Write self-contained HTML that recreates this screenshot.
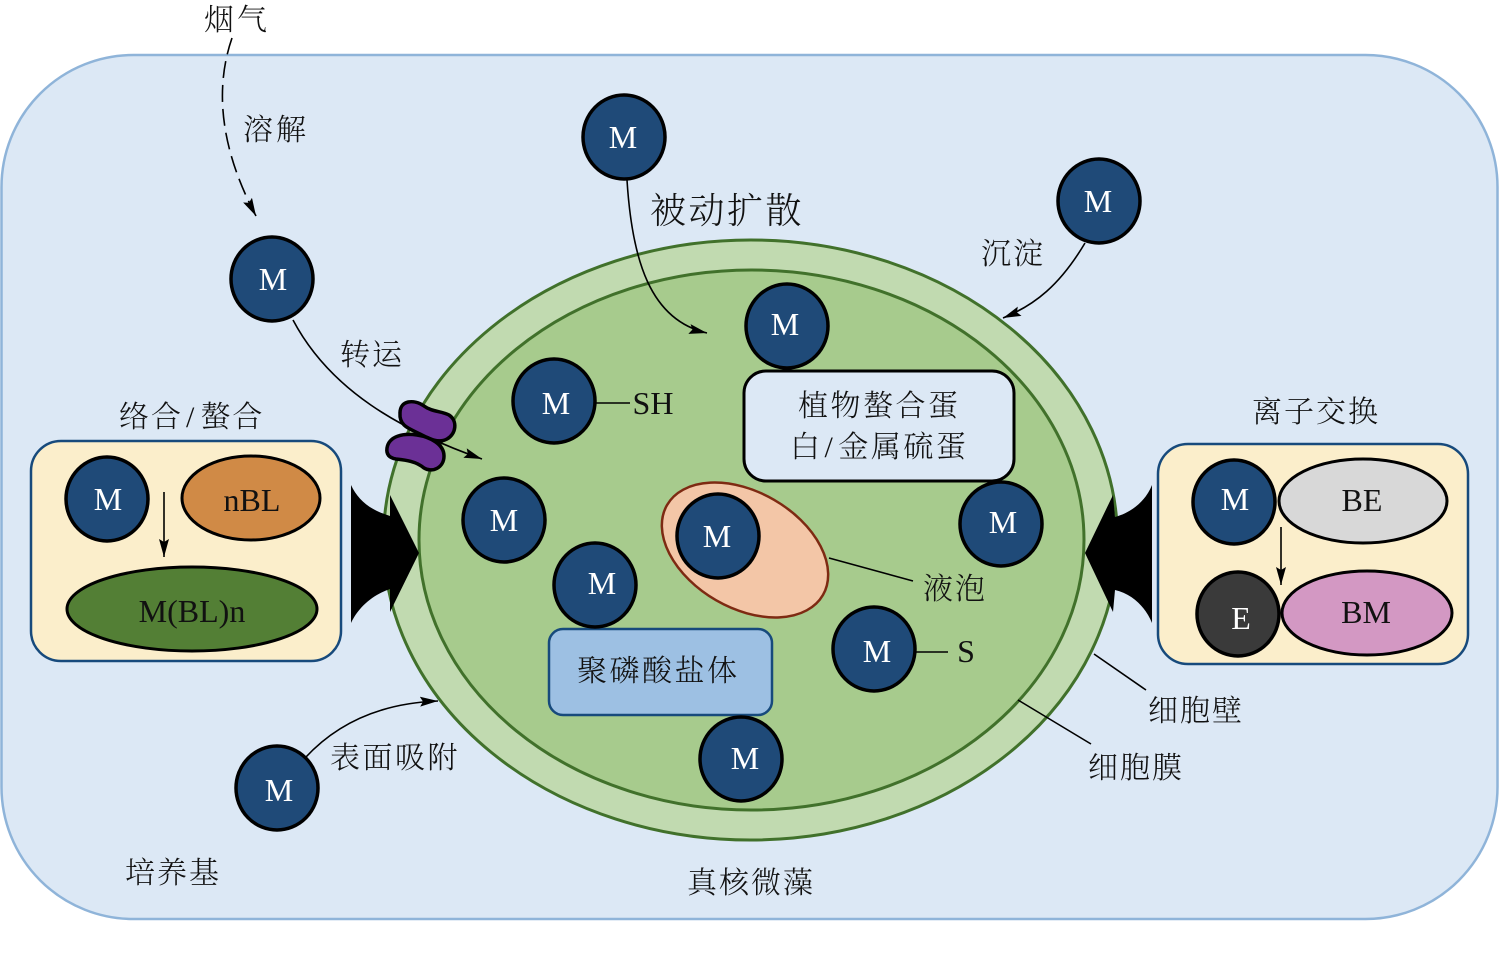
<!DOCTYPE html>
<html><head><meta charset="utf-8"><style>
html,body{margin:0;padding:0;background:#fff}
svg{display:block}
.c{font-family:"Liberation Serif","Noto Serif CJK SC",serif;font-size:30px;fill:#111;font-weight:300;letter-spacing:2px}
.l{font-family:"Liberation Serif",serif;font-size:32px;fill:#111;text-anchor:middle}
.w{font-family:"Liberation Serif",serif;font-size:32px;fill:#fff;text-anchor:middle}
</style></head><body>
<svg width="1500" height="961" viewBox="0 0 1500 961" xmlns="http://www.w3.org/2000/svg">
<defs>
<marker id="a" markerUnits="userSpaceOnUse" markerWidth="20" markerHeight="12" refX="18" refY="5" orient="auto"><path d="M0,0L18,5L0,10L3,5Z" fill="#000"/></marker>
<g id="m"><ellipse rx="41" ry="42" fill="#1f4a78" stroke="#000" stroke-width="3.500"/></g>
</defs>
<rect x="1.500" y="55" width="1496" height="864" rx="132" ry="132" fill="#dce8f5" stroke="#8fb4d9" stroke-width="2.500"/>
<text class="c" x="204" y="30" style="letter-spacing:3px">烟气</text>
<path d="M232,38C214,90 221,150 256,216" fill="none" stroke="#000" stroke-width="1.600" stroke-dasharray="17 7" marker-end="url(#a)"/>
<text class="c" x="243" y="140" style="letter-spacing:3px">溶解</text>

<ellipse cx="750.500" cy="540" rx="367" ry="300" fill="#c1dab0" stroke="#41712b" stroke-width="3"/>
<ellipse cx="751.500" cy="540" rx="332.500" ry="270" fill="#a7cb8d" stroke="#41712b" stroke-width="3"/>

<path d="M293,320C330,390 400,430 482,459" fill="none" stroke="#000" stroke-width="1.600" marker-end="url(#a)"/>
<path d="M400,413C400,400 414,399 424,406C432,412 442,411 449,415C458,421 456,434 447,439C438,444 428,438 420,434C411,429 399,427 400,413Z" fill="#6b3096" stroke="#000" stroke-width="3.500"/>
<path d="M387,448C389,436 403,433 417,435C430,437 444,444 444,456C444,468 432,473 424,468C416,461 405,460 396,459C390,458 386,455 387,448Z" fill="#6b3096" stroke="#000" stroke-width="3.500"/>

<path d="M627,180C632,260 650,320 707,333" fill="none" stroke="#000" stroke-width="1.600" marker-end="url(#a)"/>
<path d="M1085,243C1060,285 1035,305 1003,318" fill="none" stroke="#000" stroke-width="1.600" marker-end="url(#a)"/>
<path d="M305,758C340,720 385,703 438,701" fill="none" stroke="#000" stroke-width="1.600" marker-end="url(#a)"/>

<g stroke="#000" stroke-width="1.600">
<path d="M596,403H630M916,652H948M829,558L913,581M1094,654L1146,690M1018,700L1091,744" fill="none"/>
</g>

<rect x="744" y="371" width="270" height="110" rx="22" fill="#dce8f5" stroke="#000" stroke-width="3"/>
<text class="c" x="798" y="416" style="letter-spacing:2.500px">植物螯合蛋</text>
<text class="c" x="790" y="457" style="letter-spacing:2.500px">白<tspan dx="2">/</tspan><tspan dx="3">金属硫蛋</tspan></text>

<ellipse cx="745" cy="550" rx="90" ry="58" transform="rotate(30 745 550)" fill="#f3c6a7" stroke="#7e2a12" stroke-width="2.500"/>
<rect x="549" y="629" width="223" height="86" rx="14" fill="#9dc0e3" stroke="#174a7c" stroke-width="2.500"/>
<text class="c" x="577" y="681" style="letter-spacing:2.500px">聚磷酸盐体</text>

<use href="#m" x="272" y="279"/><text class="w" x="273" y="290">M</text>
<use href="#m" x="624" y="137"/><text class="w" x="623" y="148">M</text>
<use href="#m" x="1099" y="201"/><text class="w" x="1098" y="212">M</text>
<use href="#m" x="787" y="326"/><text class="w" x="785" y="335">M</text>
<use href="#m" x="554" y="401"/><text class="w" x="556" y="414">M</text>
<use href="#m" x="504" y="520"/><text class="w" x="504" y="531">M</text>
<use href="#m" x="718" y="536"/><text class="w" x="717" y="547">M</text>
<use href="#m" x="1001" y="524"/><text class="w" x="1003" y="533">M</text>
<use href="#m" x="595" y="585"/><text class="w" x="602" y="594">M</text>
<use href="#m" x="874" y="649"/><text class="w" x="877" y="662">M</text>
<use href="#m" x="741" y="759"/><text class="w" x="745" y="769">M</text>
<use href="#m" x="277" y="788"/><text class="w" x="279" y="801">M</text>

<text class="l" x="653" y="414">SH</text>
<text class="l" x="966" y="662">S</text>
<text class="c" x="923" y="599">液泡</text>
<text class="c" x="650" y="223" style="font-size:36px;letter-spacing:2.500px">被动扩散</text>
<text class="c" x="981" y="264">沉淀</text>
<text class="c" x="340" y="365">转运</text>
<text class="c" x="330" y="768" style="letter-spacing:2.500px">表面吸附</text>
<text class="c" x="125" y="883">培养基</text>
<text class="c" x="687" y="893">真核微藻</text>
<text class="c" x="1148" y="721">细胞壁</text>
<text class="c" x="1088" y="778">细胞膜</text>
<text class="c" x="119" y="427">络合<tspan dx="3">/</tspan><tspan dx="4">螯合</tspan></text>
<text class="c" x="1252" y="422">离子交换</text>

<rect x="31" y="441" width="310" height="220" rx="30" fill="#fbeecb" stroke="#174a7c" stroke-width="2.500"/>
<use href="#m" x="107" y="499"/><text class="w" x="108" y="510">M</text>
<ellipse cx="251" cy="498" rx="69" ry="42" fill="#d08a46" stroke="#000" stroke-width="3"/>
<text class="l" x="252" y="511">nBL</text>
<ellipse cx="192" cy="609" rx="125" ry="42" fill="#537f35" stroke="#000" stroke-width="3"/>
<text class="l" x="192" y="622">M(BL)n</text>
<path d="M164,492V557" stroke="#000" stroke-width="1.600" marker-end="url(#a)"/>

<rect x="1158" y="444" width="310" height="220" rx="30" fill="#fbeecb" stroke="#174a7c" stroke-width="2.500"/>
<use href="#m" x="1234" y="502"/><text class="w" x="1235" y="510">M</text>
<ellipse cx="1363" cy="501" rx="84" ry="42" fill="#d8d8d8" stroke="#000" stroke-width="3"/>
<text class="l" x="1362" y="511">BE</text>
<ellipse cx="1238" cy="614" rx="41" ry="42" fill="#3a3a3a" stroke="#000" stroke-width="3.500"/>
<text class="w" x="1241" y="629">E</text>
<ellipse cx="1367" cy="613" rx="85" ry="42" fill="#d398c3" stroke="#000" stroke-width="3"/>
<text class="l" x="1366" y="623">BM</text>
<path d="M1281,527V585" stroke="#000" stroke-width="1.600" marker-end="url(#a)"/>

<path d="M351,485C358,500 370,510 390,516L390,495L419,553L390,612L390,589C372,595 358,608 351,623Z" fill="#000"/>
<path d="M1152,485C1146,500 1133,512 1115,517L1113,495L1085,553L1113,612L1115,590C1133,594 1146,608 1152,623Z" fill="#000"/>
</svg>
</body></html>
